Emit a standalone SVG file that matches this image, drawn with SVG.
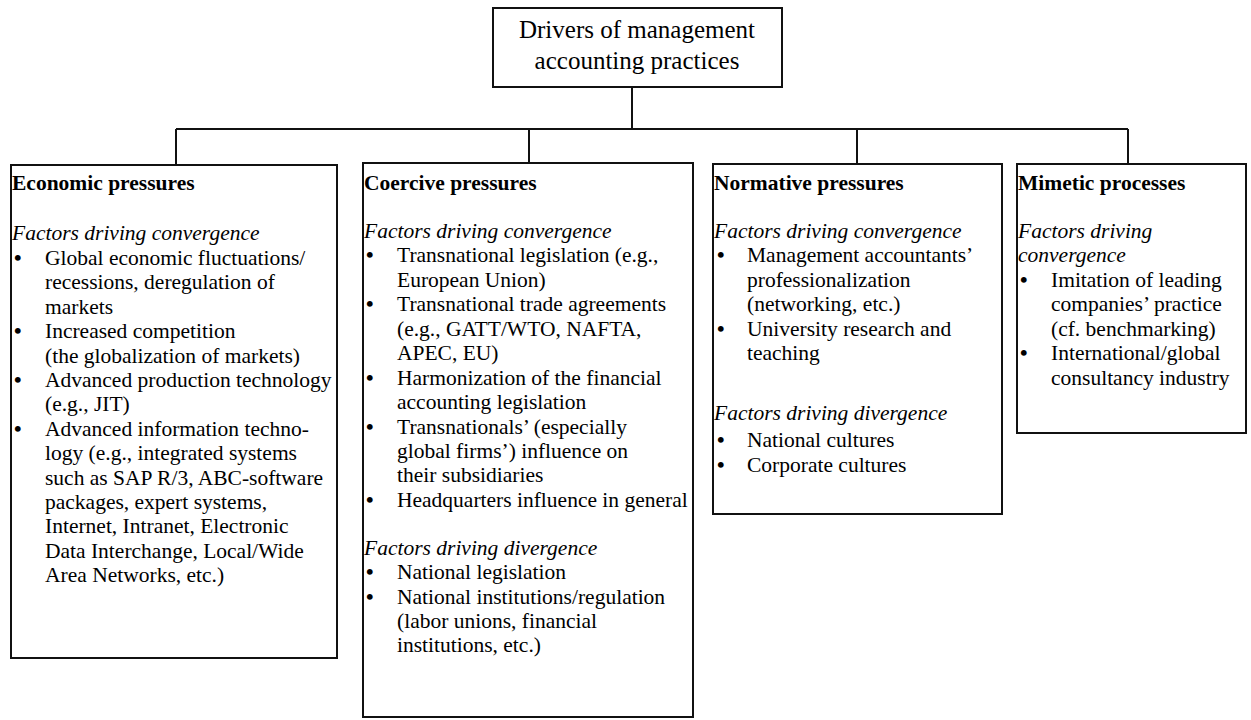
<svg xmlns="http://www.w3.org/2000/svg" width="1251" height="720" viewBox="0 0 1251 720">
  <style>
    .box { fill: #fff; stroke: #111; stroke-width: 2; }
    .wire { fill: none; stroke: #111; stroke-width: 2; }
    text { font-family: "Liberation Serif", "Times New Roman", serif; fill: #000; }
    .title { font-size: 25px; text-anchor: middle; }
    .head { font-size: 21.5px; font-weight: bold; }
    .sub { font-size: 21.5px; font-style: italic; }
    .item { font-size: 21.5px; }
    .dot { font-weight: bold; }
  </style>
  <rect width="1251" height="720" fill="#fff"/>

  <!-- tree connectors -->
  <g id="connectors">
    <path class="wire" d="M632,87 V129 M176,129 H1128 M176,129 V165 M529,129 V163 M857,129 V164 M1128,129 V164"/>
  </g>

  <!-- root -->
  <g id="root">
    <rect class="box" x="493" y="8" width="289" height="79"/>
    <text class="title" x="637" y="38">Drivers of management</text>
    <text class="title" x="637" y="69">accounting practices</text>
  </g>

  <!-- economic pressures -->
  <g id="economic">
    <rect class="box" x="11" y="165" width="326" height="493"/>
    <text class="head" x="12" y="190">Economic pressures</text>
    <text class="sub" x="12" y="240">Factors driving convergence</text>
    <text class="item" y="265"><tspan class="dot" x="14">•</tspan><tspan x="45">Global economic fluctuations/</tspan></text>
    <text class="item" x="45" y="289">recessions, deregulation of</text>
    <text class="item" x="45" y="314">markets</text>
    <text class="item" y="338"><tspan class="dot" x="14">•</tspan><tspan x="45">Increased competition</tspan></text>
    <text class="item" x="45" y="363">(the globalization of markets)</text>
    <text class="item" y="387"><tspan class="dot" x="14">•</tspan><tspan x="45">Advanced production technology</tspan></text>
    <text class="item" x="45" y="411">(e.g., JIT)</text>
    <text class="item" y="436"><tspan class="dot" x="14">•</tspan><tspan x="45">Advanced information techno-</tspan></text>
    <text class="item" x="45" y="460">logy (e.g., integrated systems</text>
    <text class="item" x="45" y="485">such as SAP R/3, ABC-software</text>
    <text class="item" x="45" y="509">packages, expert systems,</text>
    <text class="item" x="45" y="533">Internet, Intranet, Electronic</text>
    <text class="item" x="45" y="558">Data Interchange, Local/Wide</text>
    <text class="item" x="45" y="582">Area Networks, etc.)</text>
  </g>

  <!-- coercive pressures -->
  <g id="coercive">
    <rect class="box" x="363" y="163" width="330" height="554"/>
    <text class="head" x="364" y="190">Coercive pressures</text>
    <text class="sub" x="364" y="238">Factors driving convergence</text>
    <text class="item" y="262"><tspan class="dot" x="366">•</tspan><tspan x="397">Transnational legislation (e.g.,</tspan></text>
    <text class="item" x="397" y="287">European Union)</text>
    <text class="item" y="311"><tspan class="dot" x="366">•</tspan><tspan x="397">Transnational trade agreements</tspan></text>
    <text class="item" x="397" y="336">(e.g., GATT/WTO, NAFTA,</text>
    <text class="item" x="397" y="360">APEC, EU)</text>
    <text class="item" y="385"><tspan class="dot" x="366">•</tspan><tspan x="397">Harmonization of the financial</tspan></text>
    <text class="item" x="397" y="409">accounting legislation</text>
    <text class="item" y="434"><tspan class="dot" x="366">•</tspan><tspan x="397">Transnationals’ (especially</tspan></text>
    <text class="item" x="397" y="458">global firms’) influence on</text>
    <text class="item" x="397" y="482">their subsidiaries</text>
    <text class="item" y="507"><tspan class="dot" x="366">•</tspan><tspan x="397">Headquarters influence in general</tspan></text>
    <text class="sub" x="364" y="555">Factors driving divergence</text>
    <text class="item" y="579"><tspan class="dot" x="366">•</tspan><tspan x="397">National legislation</tspan></text>
    <text class="item" y="604"><tspan class="dot" x="366">•</tspan><tspan x="397">National institutions/regulation</tspan></text>
    <text class="item" x="397" y="628">(labor unions, financial</text>
    <text class="item" x="397" y="652">institutions, etc.)</text>
  </g>

  <!-- normative pressures -->
  <g id="normative">
    <rect class="box" x="713" y="164" width="289" height="350"/>
    <text class="head" x="714" y="190">Normative pressures</text>
    <text class="sub" x="714" y="238">Factors driving convergence</text>
    <text class="item" y="262"><tspan class="dot" x="717">•</tspan><tspan x="747">Management accountants’</tspan></text>
    <text class="item" x="747" y="287">professionalization</text>
    <text class="item" x="747" y="311">(networking, etc.)</text>
    <text class="item" y="336"><tspan class="dot" x="717">•</tspan><tspan x="747">University research and</tspan></text>
    <text class="item" x="747" y="360">teaching</text>
    <text class="sub" x="714" y="420">Factors driving divergence</text>
    <text class="item" y="447"><tspan class="dot" x="717">•</tspan><tspan x="747">National cultures</tspan></text>
    <text class="item" y="472"><tspan class="dot" x="717">•</tspan><tspan x="747">Corporate cultures</tspan></text>
  </g>

  <!-- mimetic processes -->
  <g id="mimetic">
    <rect class="box" x="1017" y="164" width="229" height="269"/>
    <text class="head" x="1018" y="190">Mimetic processes</text>
    <text class="sub" x="1018" y="238">Factors driving</text>
    <text class="sub" x="1018" y="262">convergence</text>
    <text class="item" y="287"><tspan class="dot" x="1020">•</tspan><tspan x="1051">Imitation of leading</tspan></text>
    <text class="item" x="1051" y="311">companies’ practice</text>
    <text class="item" x="1051" y="336">(cf. benchmarking)</text>
    <text class="item" y="360"><tspan class="dot" x="1020">•</tspan><tspan x="1051">International/global</tspan></text>
    <text class="item" x="1051" y="385">consultancy industry</text>
  </g>
</svg>
